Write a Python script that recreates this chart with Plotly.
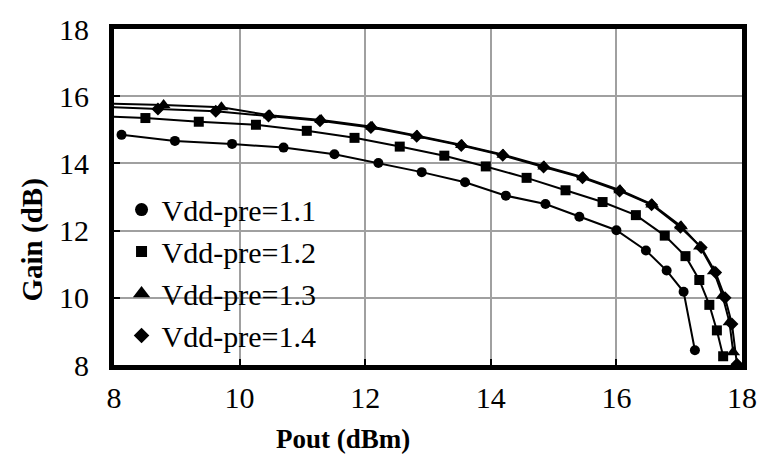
import plotly.graph_objects as go

# Output power (dBm) and gain (dB) for each pre-driver supply voltage
pout_11 = [8.12, 8.97, 9.88, 10.70, 11.51, 12.21, 12.90, 13.59, 14.24, 14.87, 15.41, 16.00, 16.47, 16.80, 17.07, 17.25]
gain_11 = [14.85, 14.67, 14.58, 14.47, 14.27, 14.01, 13.74, 13.44, 13.04, 12.79, 12.41, 12.01, 11.41, 10.81, 10.18, 8.44]

pout_12 = [7.65, 8.50, 9.35, 10.26, 11.07, 11.83, 12.55, 13.26, 13.92, 14.57, 15.19, 15.78, 16.31, 16.77, 17.10, 17.32, 17.48, 17.60, 17.70]
gain_12 = [15.41, 15.35, 15.24, 15.15, 14.97, 14.76, 14.50, 14.23, 13.91, 13.57, 13.20, 12.85, 12.46, 11.85, 11.24, 10.53, 9.79, 9.03, 8.26]

pout_13 = [7.90, 8.79, 9.71, 10.48, 11.30, 12.11, 12.83, 13.54, 14.20, 14.85, 15.47, 16.06, 16.57, 17.03, 17.33, 17.55, 17.69, 17.80, 17.86]
gain_13 = [15.78, 15.74, 15.67, 15.43, 15.29, 15.09, 14.82, 14.55, 14.26, 13.91, 13.59, 13.20, 12.78, 12.13, 11.53, 10.79, 10.06, 9.27, 8.38]

pout_14 = [7.80, 8.70, 9.62, 10.46, 11.28, 12.09, 12.82, 13.53, 14.19, 14.84, 15.46, 16.05, 16.56, 17.02, 17.35, 17.58, 17.73, 17.84, 17.92]
gain_14 = [15.69, 15.62, 15.55, 15.41, 15.27, 15.07, 14.81, 14.53, 14.24, 13.89, 13.57, 13.18, 12.77, 12.10, 11.50, 10.75, 10.00, 9.22, 8.02]

series_names = ["Vdd-pre=1.1", "Vdd-pre=1.2", "Vdd-pre=1.3", "Vdd-pre=1.4"]
series_symbols = ["circle", "square", "triangle-up", "diamond"]
series_sizes = [10, 10, 12, 10]
legend_sizes = [13, 11, 15, 12]

x_ticks = [8, 10, 12, 14, 16, 18]
y_ticks = [8, 10, 12, 14, 16, 18]

FONT = "Liberation Serif, Times New Roman, serif"

fig = go.Figure()
for name, xs, ys, sym, sz in zip(
    series_names,
    [pout_11, pout_12, pout_13, pout_14],
    [gain_11, gain_12, gain_13, gain_14],
    series_symbols,
    series_sizes,
):
    fig.add_trace(go.Scatter(
        x=xs, y=ys, name=name, mode="lines+markers", showlegend=False,
        line=dict(color="black", width=2),
        marker=dict(symbol=sym, size=sz, color="black"),
    ))

# Legend entries show the marker symbol only
for name, sym, sz in zip(series_names, series_symbols, legend_sizes):
    fig.add_trace(go.Scatter(
        x=[None], y=[None], name=name, mode="markers",
        marker=dict(symbol=sym, size=sz, color="black"),
    ))

axis_common = dict(
    showline=True, linecolor="black", linewidth=5, mirror=True,
    showgrid=True, gridcolor="#a0a0a0", gridwidth=1.5,
    zeroline=False,
    ticks="inside", ticklen=6, tickwidth=2, tickcolor="black",
    tickfont=dict(family=FONT, size=30, color="black"),
)

fig.update_xaxes(
    range=[8, 18], tickvals=x_ticks, ticktext=[str(v) for v in x_ticks],
    ticklabelstandoff=2,
    **axis_common,
)
fig.update_yaxes(
    range=[8, 18], tickvals=y_ticks, ticktext=[str(v) for v in y_ticks],
    ticklabelstandoff=14,
    **axis_common,
)

fig.update_layout(
    width=769, height=466,
    margin=dict(l=114, r=27, t=25, b=101),
    paper_bgcolor="white", plot_bgcolor="white",
    font=dict(family=FONT, size=30, color="black"),
    showlegend=True,
    legend=dict(
        x=0.012, y=0.54, xanchor="left", yanchor="top",
        bgcolor="rgba(0,0,0,0)", borderwidth=0,
        font=dict(family=FONT, size=30, color="black"),
        itemwidth=30, tracegroupgap=0,
    ),
    annotations=[
        dict(text="<b>Pout (dBm)</b>", xref="paper", yref="paper",
             x=0.3646, y=-0.2206, xanchor="center", yanchor="middle",
             showarrow=False, font=dict(family=FONT, size=27, color="black")),
        dict(text="<b>Gain (dB)</b>", xref="paper", yref="paper",
             x=-0.129, y=0.3735, xanchor="center", yanchor="middle", textangle=-90,
             showarrow=False, font=dict(family=FONT, size=29, color="black")),
    ],
)

fig.write_html("out.html")
